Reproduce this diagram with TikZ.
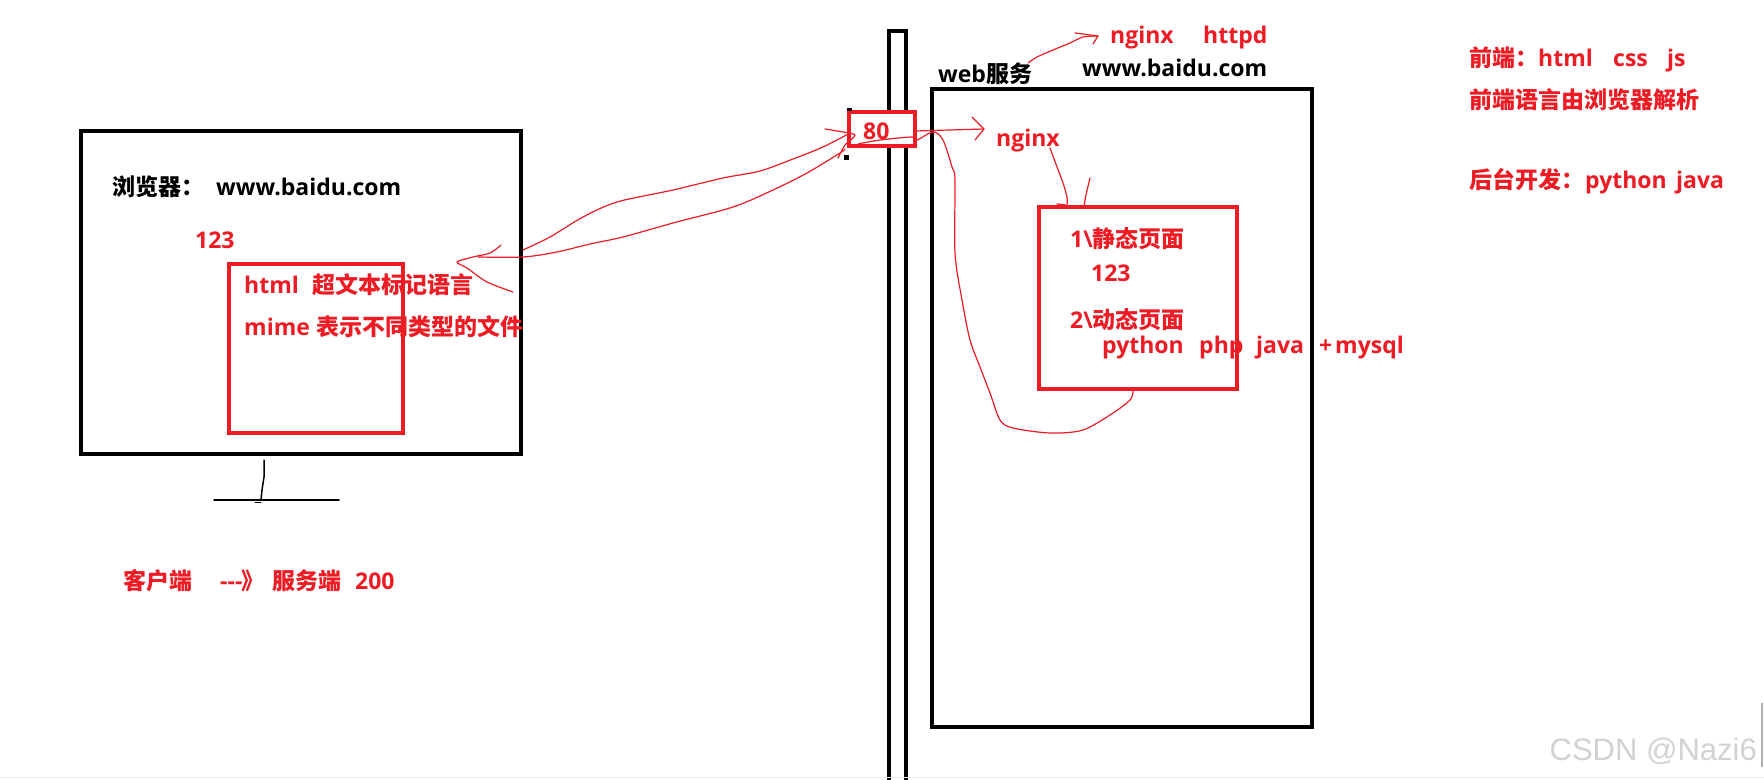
\documentclass[tikz,border=0pt]{standalone}
\usepackage{fontspec}
\setmainfont{Open Sans}
\newfontfamily\cjk{Noto Sans CJK SC}
\newfontfamily\wmfont{Liberation Sans}
\definecolor{pred}{HTML}{ED1C24}
\newcommand\fs{\fontsize{23}{27}\selectfont\bfseries}
\tikzset{
  blkbox/.style={draw=black, line width=4.5pt, fill=white, inner sep=0pt, outer sep=0pt, anchor=north west},
  redbox/.style={draw=pred, line width=4.5pt, inner sep=0pt, outer sep=0pt, anchor=north west},
  pen/.style={draw=pred, line width=1.2pt, line join=round, line cap=round},
  thinblk/.style={draw=black, line width=1.5pt, line join=round, line cap=round},
  txt/.style={anchor=base west, inner sep=0pt, font=\fs},
  rtxt/.style={txt, text=pred},
}
\begin{document}
\begin{tikzpicture}[x=1pt,y=-1pt]
\useasboundingbox (0,0) rectangle (1764,779);
\fill[white] (0,0) rectangle (1764,779);

% firewall pole
\draw[line width=4pt, black] (889,780) -- (889,31) -- (906,31) -- (906,780);

% browser monitor
\node[blkbox, minimum width=440pt, minimum height=323pt] (browser) at (81,131) {};
\node[redbox, minimum width=174pt, minimum height=169pt] (page) at (229,264) {};
\draw[thinblk] (264,460) -- (264,477) -- (262,490) -- (261,500);
\draw[thinblk] (214,500) -- (339,500);
\draw[thinblk, line width=1pt] (255,502) -- (261,502);

% server
\node[blkbox, minimum width=380pt, minimum height=638pt] (server) at (932,89) {};
\node[redbox, minimum width=198pt, minimum height=182pt] (pages) at (1039,207) {};

% port 80 box
\node[redbox, fill=white, minimum width=66pt, minimum height=34pt] (port) at (849,112) {};
\fill[black] (843.5,154.5) rectangle (848.5,159.5);
\fill[black] (847,107.5) rectangle (852,110.5);

% texts: browser
\node[txt] (brw) at (112,195) {\makebox[104pt][l]{\cjk 浏览器：}www.baidu.com};
\node[rtxt] (n123a) at (195,248) {123};
\node[rtxt] (html) at (244,293) {\makebox[68pt][l]{html}{\cjk 超文本标记语言}};
\node[rtxt] (mime) at (244,335) {\makebox[72pt][l]{mime}{\cjk 表示不同类型的文件}};

% texts: server
\node[txt] (websvc) at (938,82) {web{\cjk 服务}};
\node[txt] (domain) at (1082,76) {www.baidu.com};
\node[rtxt] (nh) at (1110,43) {\makebox[93pt][l]{nginx}httpd};
\node[rtxt] (p80) at (863,139) {80};
\node[rtxt] (ngx) at (996,146) {nginx};
\node[rtxt] (stat) at (1070,247) {1\textbackslash{\cjk 静态页面}};
\node[rtxt] (n123b) at (1091,281) {123};
\node[rtxt] (dyn) at (1070,328) {2\textbackslash{\cjk 动态页面}};
\node[rtxt] (langs) at (1102,353) {\makebox[97pt][l]{python}\makebox[57pt][l]{php}\makebox[63pt][l]{java}\makebox[16pt][l]{+}mysql};

% texts: right notes
\node[rtxt] (fe) at (1469,66) {\makebox[69pt][l]{\cjk 前端：}\makebox[75pt][l]{html}\makebox[54pt][l]{css}js};
\node[rtxt] (fe2) at (1469,108) {\cjk 前端语言由浏览器解析};
\node[rtxt] (be) at (1469,188) {\makebox[116pt][l]{\cjk 后台开发：}\makebox[91pt][l]{python}java};

% bottom note
\node[rtxt] (cs) at (123,589) {\makebox[97pt][l]{\cjk 客户端}\makebox[21pt][l]{{-}{-}{-}}\makebox[31pt][l]{\cjk 》}\makebox[83pt][l]{\cjk 服务端}200};

% freehand connectors
\coordinate (tipL) at (457,262);
\coordinate (tip80) at (855,135);
\draw[pen] plot[smooth, tension=0.5] coordinates {(523,250) (550,237) (583,217) (617,202) (673,190) (723,178) (760,171) (793,159) (823,147) (850,133)};
\draw[pen] plot[smooth, tension=0.5] coordinates {(478,257) (523,257) (557,252) (590,244) (623,237) (673,223) (733,207) (773,190) (807,173) (840,153) (845,149)};
\draw[pen] plot[smooth, tension=0.5] coordinates {(501,245) (490,253) (473,257) (tipL) (467,268) (487,282) (513,292)};
\draw[pen] plot[smooth, tension=0.4] coordinates {(825,129) (837,131) (tip80) (845,145) (838,158)};

% web service -> nginx httpd
\draw[pen] plot[smooth, tension=0.5] coordinates {(1028,63) (1037,57) (1053,50) (1070,43) (1083,37) (1098,36)};
\draw[pen] (1075,33) -- (1098,36) -- (1093,44);

% port 80 -> nginx
\draw[pen] (port.east |- 0,131) -- (984,129);
\draw[pen] (972,117) -- (984,129) -- (975,140);

% nginx -> pages
\draw[pen] plot[smooth, tension=0.5] coordinates {(1050,148) (1057,167) (1063,183) (1067,197) (1067,206)};
\draw[pen] plot[smooth, tension=0.5] coordinates {(1090,178) (1086,195) (1084,206)};
\draw[pen] (1057,204) -- (1066,205);

% response loop
\draw[pen] plot[smooth, tension=0.5] coordinates {(858,144) (880,140) (912,137) (917,140) (933,132) (943,140) (952,167) (955,180) (955,253) (962,300) (970,340) (980,367) (990,393) (1000,420) (1013,428) (1050,433) (1083,430) (1113,413) (1130,400) (1133,392) (1133,388)};

% watermark and edges
\node[anchor=base east, inner sep=0pt, font=\wmfont\fontsize{31}{34}\selectfont, text=gray!35] (wm) at (1757,760) {CSDN @Nazi6};
\draw[gray!60, line width=2pt] (1762,703) -- (1762,767);
\draw[gray!15, line width=1.5pt] (0,777.5) -- (1764,777.5);
\end{tikzpicture}
\end{document}
